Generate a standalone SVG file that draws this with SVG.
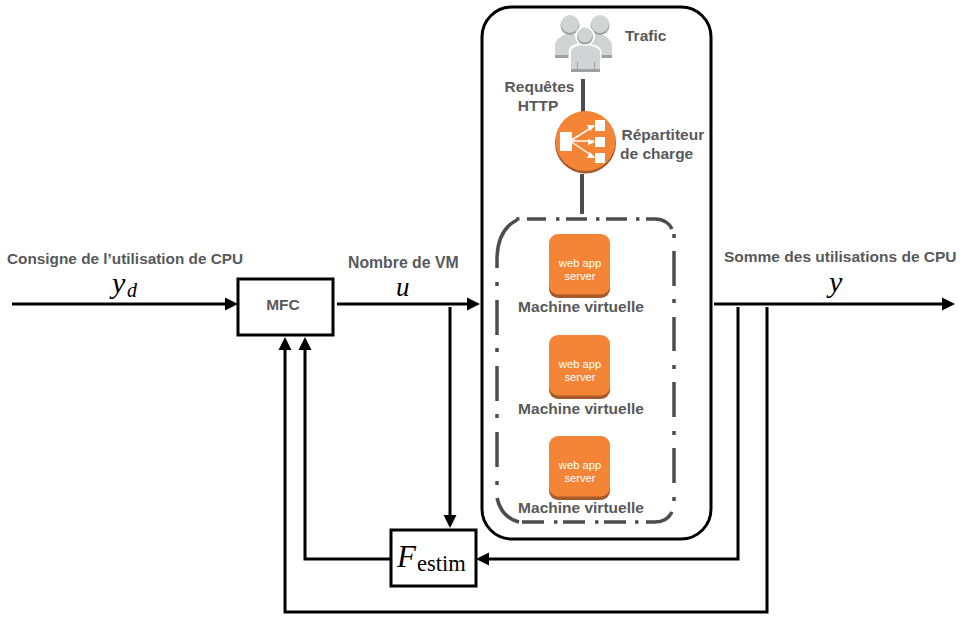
<svg xmlns="http://www.w3.org/2000/svg" width="969" height="632" viewBox="0 0 969 632">
<style>
.lab{font-family:"Liberation Sans",Arial,sans-serif;font-weight:700;font-size:15.500px;fill:#58595b}
.m{font-family:"Liberation Serif","Times New Roman",serif;font-style:italic;fill:#000}
.wa{font-family:"Liberation Sans",Arial,sans-serif;font-size:11.200px;fill:#fff;text-anchor:middle}
.b{fill:#fff;stroke:#000;stroke-width:3}
.w{fill:none;stroke:#000;stroke-width:3}
.g{fill:none;stroke:#4d4d4f;stroke-width:4}
.d{fill:none;stroke:#4d4d4f;stroke-width:3.500}
.u{fill:#d1d3d4}.us{fill:#9d9fa2}
</style>
<defs>
<marker id="ah" markerUnits="userSpaceOnUse" markerWidth="14" markerHeight="14" refX="8" refY="7" orient="auto"><path d="M0,0.500L13,7L0,13.500Z" fill="#000"/></marker>
<g id="tile"><rect x="0" y="3" width="61" height="61" rx="9" fill="#a45a2a"/><rect x="0" y="0" width="61" height="60.500" rx="9" fill="#f58536"/><text class="wa" x="31" y="33">web app</text><text class="wa" x="31" y="46">server</text></g>
</defs>
<rect width="969" height="632" fill="#fff"/>
<g id="cloud"><rect class="b" x="482" y="7" width="229" height="532" rx="30"/></g>
<g id="connectors">
<path class="w" d="M12,304H233" marker-end="url(#ah)"/>
<path class="w" d="M337,304H475" marker-end="url(#ah)"/>
<path class="w" d="M714,304H950" marker-end="url(#ah)"/>
<path class="w" d="M450,307V523" marker-end="url(#ah)"/>
<path class="w" d="M738,307V559H481" marker-end="url(#ah)"/>
<path class="w" d="M767,307V612H285V342" marker-end="url(#ah)"/>
<path class="w" d="M391,559H305V342" marker-end="url(#ah)"/>
<path class="g" d="M583,79V112"/>
<path class="g" d="M582,174V214"/>
</g>
<g id="vm-group">
<path class="d" d="M497,268V260C497,237 505,226 517,220"/>
<path class="d" d="M497,300V335M497,366V401M497,432V467"/>
<path class="d" d="M497,282v4M497,348v4M497,414v4M497,481v4"/>
<path class="d" d="M497,498C500,511 507,519 519,522"/>
<path class="d" d="M527,219H546M566,219H587M606,219H627M646,219H655C664,219 670,224 672,229"/>
<path class="d" d="M516,219h3.500M556,219h3.500M596,219h3.500M636,219h3.500"/>
<path class="d" d="M674,251V286M674,317V351M674,382V417M674,448V483"/>
<path class="d" d="M674,234v4M674,299v4M674,365v4M674,431v4M674,497v4"/>
<path class="d" d="M672,512C669,518 664,522 655,522H646M626,522H604M585,522H563M544,522H522"/>
<path class="d" d="M635,522h3.500M595,522h3.500M554,522h3.500"/>
</g>
<g id="node-mfc"><rect class="b" x="238" y="279" width="95" height="56"/><text class="lab" x="283" y="310" text-anchor="middle">MFC</text></g>
<g id="node-festim"><rect class="b" x="391" y="530" width="85" height="56"/><text class="m" x="397" y="567" font-size="31">F</text><text x="417" y="571" font-family="Liberation Serif,serif" font-size="22.500">estim</text></g>
<g id="node-trafic">
<path class="u" d="M555,58V46C555,39 562,36 568,33L578,36L581,58Z"/>
<path class="u" d="M612,58V46C612,39 605,36 599,33L589,36L586,58Z"/>
<rect class="us" x="555" y="55" width="17" height="3"/><rect class="us" x="595" y="55" width="17" height="3"/>
<circle class="us" cx="570" cy="25.500" r="9.500"/><circle class="us" cx="600" cy="25.500" r="9.500"/>
<circle class="u" cx="570" cy="24" r="9"/><circle class="u" cx="600" cy="24" r="9"/>
<path d="M570,72V52C570,46 578,45 583,44C588,45 600,46 600,52V72Z" fill="#fff" stroke="#fff" stroke-width="3"/>
<path class="u" d="M571,72V52C571,47 578,46 584,44C590,46 600,47 600,52V72Z"/>
<rect x="571" y="69" width="29" height="3" class="us"/><rect x="577" y="62" width="1" height="10" class="us"/><rect x="594" y="62" width="1" height="10" class="us"/>
<circle cx="585" cy="36" r="9" fill="#fff" stroke="#fff" stroke-width="2"/><circle class="us" cx="585" cy="36.500" r="8"/><circle class="u" cx="585" cy="35" r="7.500"/>
<text class="lab" x="625" y="41">Trafic</text>
</g>
<g id="label-http"><text class="lab" text-anchor="middle"><tspan x="539.500" y="92">Requêtes</tspan><tspan x="538" y="111">HTTP</tspan></text></g>
<g id="node-lb">
<circle cx="585.500" cy="143" r="30.500" fill="#a45a2a"/><circle cx="585.500" cy="141" r="30" fill="#f58536"/>
<g fill="#fff"><rect x="560" y="132" width="12" height="19"/><rect x="595" y="120" width="10" height="11"/><rect x="595" y="137" width="10" height="10"/><rect x="595" y="153" width="10" height="10"/></g>
<path d="M570,141L594,126M570,141H594M570,141L594,157" stroke="#fff" stroke-width="1.500"/>
<path d="M595,125L587,125L590,131ZM595,142L588,139V145ZM595,158L587,158L590,152Z" fill="#fff"/>
<text class="lab"><tspan x="621.500" y="140">Répartiteur</tspan><tspan x="620" y="159">de charge</tspan></text>
</g>
<g id="node-vm1"><use href="#tile" x="549" y="234"/><text class="lab" x="581" y="312" text-anchor="middle">Machine virtuelle</text></g>
<g id="node-vm2"><use href="#tile" x="549" y="335"/><text class="lab" x="581" y="414" text-anchor="middle">Machine virtuelle</text></g>
<g id="node-vm3"><use href="#tile" x="549" y="436"/><text class="lab" x="581" y="513" text-anchor="middle">Machine virtuelle</text></g>
<g id="labels">
<text class="lab" x="7" y="264" font-size="15.350" style="font-size:15.350px">Consigne de l’utilisation de CPU</text>
<text class="m" x="112" y="293" font-size="30">y</text><text class="m" x="127" y="297" font-size="20">d</text>
<text class="lab" x="348" y="268" style="font-size:15.800px">Nombre de VM</text>
<text class="m" x="396" y="296" font-size="27">u</text>
<text class="lab" x="724" y="262">Somme des utilisations de CPU</text>
<text class="m" x="829" y="292" font-size="30">y</text>
</g>
</svg>
